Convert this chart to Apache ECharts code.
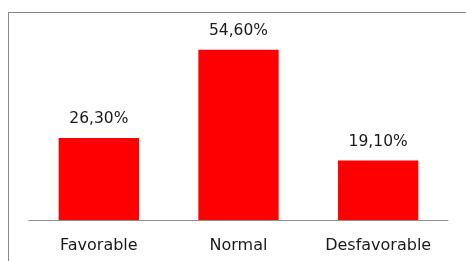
<!DOCTYPE html>
<html><head><meta charset="utf-8">
<script src="https://cdn.jsdelivr.net/npm/echarts@6/dist/echarts.min.js"></script>
<style>html,body{margin:0;padding:0;background:#fff}#c{width:466px;height:261px}</style>
</head><body><div id="c"></div>
<script>
const categories = ['Favorable', 'Normal', 'Desfavorable'];
const values = [26.3, 54.6, 19.1];
const valueLabels = ['26,30%', '54,60%', '19,10%'];

const chart = echarts.init(document.getElementById('c'), null, {renderer: 'canvas'});
chart.setOption({
  animation: false,
  graphic: [{
    type: 'rect', z: -1,
    shape: {x: 8.5, y: 12.5, width: 600, height: 400},
    style: {fill: 'none', stroke: '#888888', lineWidth: 1}
  }],
  grid: {left: 29, right: 18, top: 33, bottom: 41},
  xAxis: {
    type: 'category', data: categories,
    axisLine: {lineStyle: {color: '#8c8c8c', width: 1}},
    axisTick: {show: false},
    axisLabel: {color: '#1a1a1a', fontFamily: 'DejaVu Sans', fontSize: 16, margin: 18}
  },
  yAxis: {type: 'value', min: 0, max: 60, show: false, splitLine: {show: false}},
  series: [{
    type: 'bar', data: values, barWidth: '57.5%',
    itemStyle: {color: '#ff0000'},
    label: {
      show: true, position: 'top', distance: 11,
      color: '#1a1a1a', fontFamily: 'DejaVu Sans', fontSize: 15.5,
      formatter: p => valueLabels[p.dataIndex]
    }
  }]
});
</script></body></html>
